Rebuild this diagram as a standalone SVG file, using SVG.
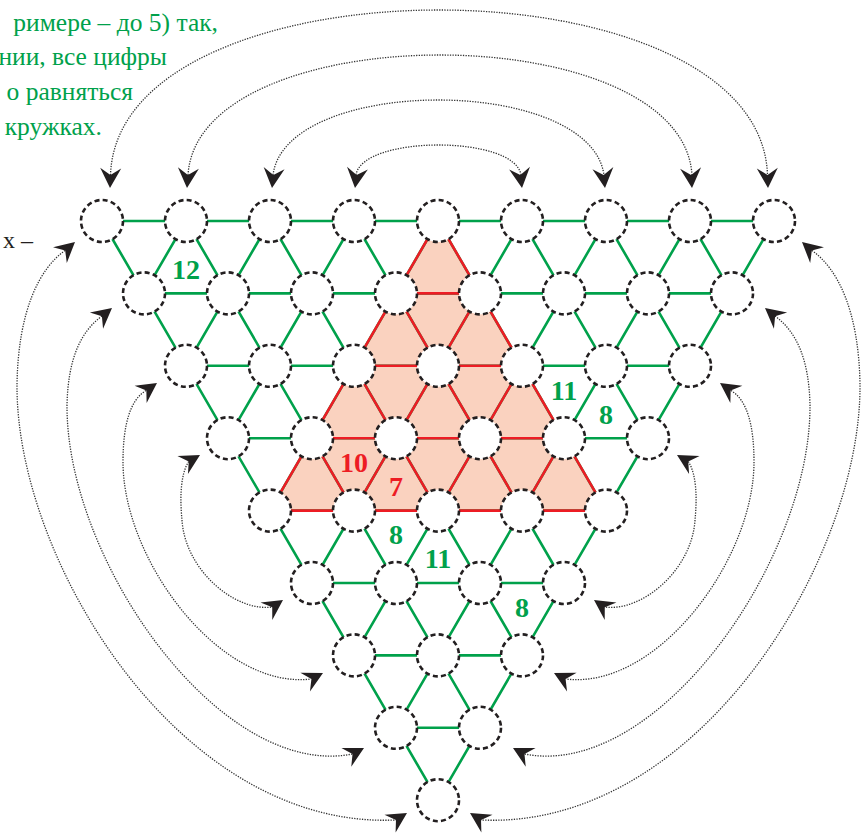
<svg xmlns="http://www.w3.org/2000/svg" xmlns:xlink="http://www.w3.org/1999/xlink" width="862" height="834" viewBox="0 0 862 834">
<style>
.node circle{fill:#fff;stroke:#231f20;stroke-width:2.6;stroke-dasharray:5 3.25}
.gl{fill:none;stroke:#00a14b;stroke-width:2.6}
.rl{fill:none;stroke:#ed1c24;stroke-width:2.6}
.lbl{font-family:"Liberation Serif",serif;font-weight:bold;font-size:28px;text-anchor:middle}
.lg{fill:#00a14b}.lr{fill:#ed1c24}
.para{font-family:"Liberation Serif",serif;font-size:25.5px;fill:#00a14b;text-anchor:end}
.arc{fill:none;stroke:#333;stroke-width:1.3;stroke-dasharray:1.3 1.3}
.ah{fill:#231f20}
</style>
<defs>
<path id="ah" class="ah" d="M0,0 L-20,-10.5 L-13,0 L-20,10.5 Z"/>
</defs>

<g id="text">
<text class="para" x="218" y="31">римере – до 5) так,</text>
<text class="para" x="167" y="65">нии, все цифры</text>
<text class="para" x="133" y="100">о равняться</text>
<text class="para" x="102" y="135">кружках.</text>
<text x="33" y="248" font-family="Liberation Serif, serif" font-size="24" fill="#231f20" text-anchor="end">х –</text>
</g>

<polygon id="shade" points="438,221 270,510.6 606,510.6" fill="#fad2bf"/>

<g id="edges">
<path class="gl" d="M102,221H774 M144,293.4H732 M186,365.8H690 M228,438.2H648 M270,510.6H606 M312,583H564 M354,655.4H522 M396,727.8H480
M102,221L438,800.2 M186,221L480,727.8 M270,221L522,655.4 M354,221L564,583 M438,221L606,510.6 M522,221L648,438.2 M606,221L690,365.8 M690,221L732,293.4
M774,221L438,800.2 M690,221L396,727.8 M606,221L354,655.4 M522,221L312,583 M438,221L270,510.6 M354,221L228,438.2 M270,221L186,365.8 M186,221L144,293.4"/>
<path class="rl" d="M396,293.4H480 M354,365.8H522 M312,438.2H564 M270,510.6H606
M438,221L606,510.6 M396,293.4L522,510.6 M354,365.8L438,510.6 M312,438.2L354,510.6
M438,221L270,510.6 M480,293.4L354,510.6 M522,365.8L438,510.6 M564,438.2L522,510.6"/>
</g>

<g id="arrows">
<g id="arrows-top">
<path class="arc" d="M110.5,175 C118,-45 760,-45 767.5,175"/>
<path class="arc" d="M188,175 C198,15 682,15 692,175"/>
<path class="arc" d="M273,175 C286,75 590,75 604,175"/>
<path class="arc" d="M356,175 C362,135 515,135 521,175"/>
<use xlink:href="#ah" href="#ah" transform="translate(110,188) rotate(92)"/>
<use xlink:href="#ah" href="#ah" transform="translate(768,188) rotate(88)"/>
<use xlink:href="#ah" href="#ah" transform="translate(187,188) rotate(94)"/>
<use xlink:href="#ah" href="#ah" transform="translate(692,188) rotate(86)"/>
<use xlink:href="#ah" href="#ah" transform="translate(272,188) rotate(96)"/>
<use xlink:href="#ah" href="#ah" transform="translate(605,188) rotate(84)"/>
<use xlink:href="#ah" href="#ah" transform="translate(355,188) rotate(97)"/>
<use xlink:href="#ah" href="#ah" transform="translate(522,188) rotate(83)"/>
</g>
<g id="arrows-left">
<path class="arc" d="M65,250.5 C40,268 18,310 17,385 C16,560 180,830 396,820"/>
<path class="arc" d="M102,316 C80,332 68,360 67,405 C66,560 220,780 352.5,754"/>
<path class="arc" d="M146,390.5 C130,400 123,425 123,462 C123,560 220,690 311,679"/>
<path class="arc" d="M188.7,461.5 C180,475 180,500 182,520 C185,570 235,612 272,607"/>
<use xlink:href="#ah" href="#ah" transform="translate(75,242) rotate(-41)"/>
<use xlink:href="#ah" href="#ah" transform="translate(407,813) rotate(-32)"/>
<use xlink:href="#ah" href="#ah" transform="translate(112,308) rotate(-39)"/>
<use xlink:href="#ah" href="#ah" transform="translate(364,748) rotate(-28)"/>
<use xlink:href="#ah" href="#ah" transform="translate(157,383) rotate(-35)"/>
<use xlink:href="#ah" href="#ah" transform="translate(323,673) rotate(-27)"/>
<use xlink:href="#ah" href="#ah" transform="translate(200,455) rotate(-30)"/>
<use xlink:href="#ah" href="#ah" transform="translate(283,600) rotate(-34)"/>
</g>
<g id="arrows-right" transform="matrix(-1 0 0 1 877 0)">
<path class="arc" d="M65,250.5 C40,268 18,310 17,385 C16,560 180,830 396,820"/>
<path class="arc" d="M102,316 C80,332 68,360 67,405 C66,560 220,780 352.5,754"/>
<path class="arc" d="M146,390.5 C130,400 123,425 123,462 C123,560 220,690 311,679"/>
<path class="arc" d="M188.7,461.5 C180,475 180,500 182,520 C185,570 235,612 272,607"/>
<use xlink:href="#ah" href="#ah" transform="translate(75,242) rotate(-41)"/>
<use xlink:href="#ah" href="#ah" transform="translate(407,813) rotate(-32)"/>
<use xlink:href="#ah" href="#ah" transform="translate(112,308) rotate(-39)"/>
<use xlink:href="#ah" href="#ah" transform="translate(364,748) rotate(-28)"/>
<use xlink:href="#ah" href="#ah" transform="translate(157,383) rotate(-35)"/>
<use xlink:href="#ah" href="#ah" transform="translate(323,673) rotate(-27)"/>
<use xlink:href="#ah" href="#ah" transform="translate(200,455) rotate(-30)"/>
<use xlink:href="#ah" href="#ah" transform="translate(283,600) rotate(-34)"/>
</g>
</g>

<g id="nodes">
<g id="n0-0" class="node"><circle cx="102" cy="221" r="21"/></g>
<g id="n0-1" class="node"><circle cx="186" cy="221" r="21"/></g>
<g id="n0-2" class="node"><circle cx="270" cy="221" r="21"/></g>
<g id="n0-3" class="node"><circle cx="354" cy="221" r="21"/></g>
<g id="n0-4" class="node"><circle cx="438" cy="221" r="21"/></g>
<g id="n0-5" class="node"><circle cx="522" cy="221" r="21"/></g>
<g id="n0-6" class="node"><circle cx="606" cy="221" r="21"/></g>
<g id="n0-7" class="node"><circle cx="690" cy="221" r="21"/></g>
<g id="n0-8" class="node"><circle cx="774" cy="221" r="21"/></g>
<g id="n1-0" class="node"><circle cx="144" cy="293.4" r="21"/></g>
<g id="n1-1" class="node"><circle cx="228" cy="293.4" r="21"/></g>
<g id="n1-2" class="node"><circle cx="312" cy="293.4" r="21"/></g>
<g id="n1-3" class="node"><circle cx="396" cy="293.4" r="21"/></g>
<g id="n1-4" class="node"><circle cx="480" cy="293.4" r="21"/></g>
<g id="n1-5" class="node"><circle cx="564" cy="293.4" r="21"/></g>
<g id="n1-6" class="node"><circle cx="648" cy="293.4" r="21"/></g>
<g id="n1-7" class="node"><circle cx="732" cy="293.4" r="21"/></g>
<g id="n2-0" class="node"><circle cx="186" cy="365.8" r="21"/></g>
<g id="n2-1" class="node"><circle cx="270" cy="365.8" r="21"/></g>
<g id="n2-2" class="node"><circle cx="354" cy="365.8" r="21"/></g>
<g id="n2-3" class="node"><circle cx="438" cy="365.8" r="21"/></g>
<g id="n2-4" class="node"><circle cx="522" cy="365.8" r="21"/></g>
<g id="n2-5" class="node"><circle cx="606" cy="365.8" r="21"/></g>
<g id="n2-6" class="node"><circle cx="690" cy="365.8" r="21"/></g>
<g id="n3-0" class="node"><circle cx="228" cy="438.2" r="21"/></g>
<g id="n3-1" class="node"><circle cx="312" cy="438.2" r="21"/></g>
<g id="n3-2" class="node"><circle cx="396" cy="438.2" r="21"/></g>
<g id="n3-3" class="node"><circle cx="480" cy="438.2" r="21"/></g>
<g id="n3-4" class="node"><circle cx="564" cy="438.2" r="21"/></g>
<g id="n3-5" class="node"><circle cx="648" cy="438.2" r="21"/></g>
<g id="n4-0" class="node"><circle cx="270" cy="510.6" r="21"/></g>
<g id="n4-1" class="node"><circle cx="354" cy="510.6" r="21"/></g>
<g id="n4-2" class="node"><circle cx="438" cy="510.6" r="21"/></g>
<g id="n4-3" class="node"><circle cx="522" cy="510.6" r="21"/></g>
<g id="n4-4" class="node"><circle cx="606" cy="510.6" r="21"/></g>
<g id="n5-0" class="node"><circle cx="312" cy="583" r="21"/></g>
<g id="n5-1" class="node"><circle cx="396" cy="583" r="21"/></g>
<g id="n5-2" class="node"><circle cx="480" cy="583" r="21"/></g>
<g id="n5-3" class="node"><circle cx="564" cy="583" r="21"/></g>
<g id="n6-0" class="node"><circle cx="354" cy="655.4" r="21"/></g>
<g id="n6-1" class="node"><circle cx="438" cy="655.4" r="21"/></g>
<g id="n6-2" class="node"><circle cx="522" cy="655.4" r="21"/></g>
<g id="n7-0" class="node"><circle cx="396" cy="727.8" r="21"/></g>
<g id="n7-1" class="node"><circle cx="480" cy="727.8" r="21"/></g>
<g id="n8-0" class="node"><circle cx="438" cy="800.2" r="21"/></g>
</g>

<g id="labels">
<text class="lbl lg" x="186" y="279">12</text>
<text class="lbl lg" x="564" y="400">11</text>
<text class="lbl lg" x="606" y="424">8</text>
<text class="lbl lr" x="354" y="472">10</text>
<text class="lbl lr" x="396" y="496">7</text>
<text class="lbl lg" x="396" y="544">8</text>
<text class="lbl lg" x="438" y="568">11</text>
<text class="lbl lg" x="522" y="617">8</text>
</g>
</svg>
